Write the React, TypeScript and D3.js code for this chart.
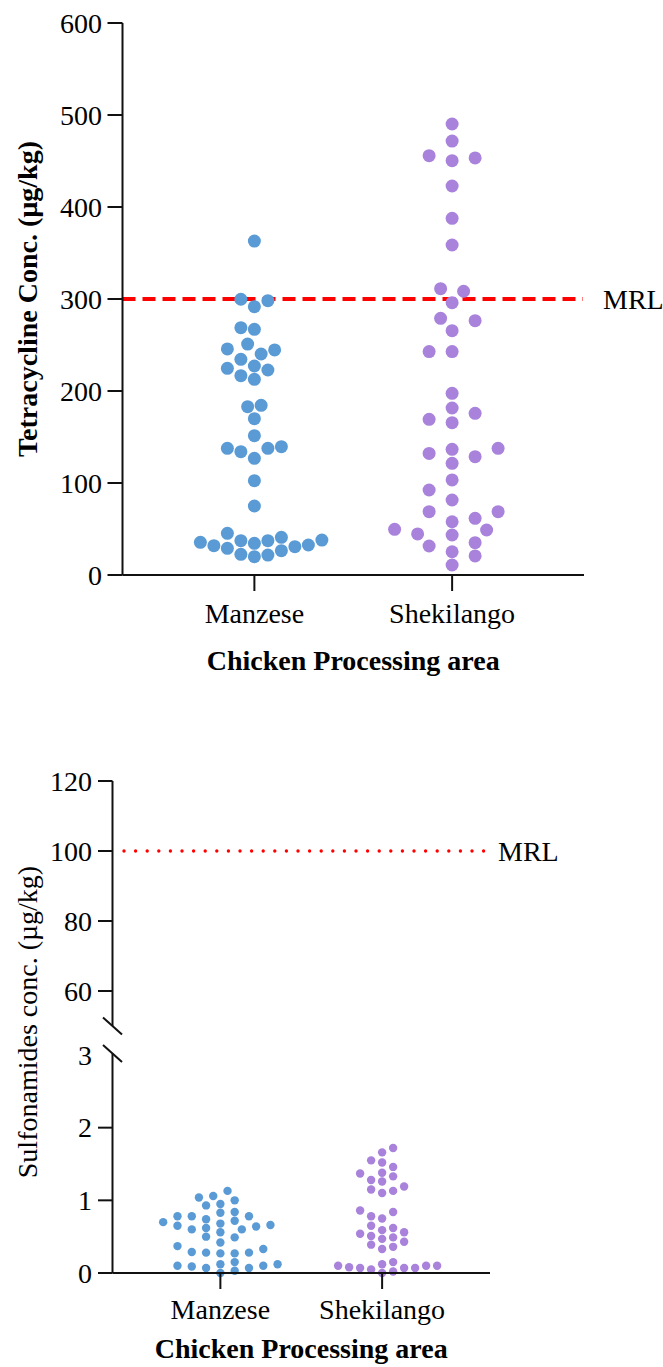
import React from "react";
import * as d3 from "d3";

// ---------- data ----------
const categories = ["Manzese", "Shekilango"];

const tetraManzese = [
  363, 299.7, 298.2, 291.7, 267, 268.8, 240.2, 245.7, 251, 244.6, 234.4, 222.8, 227.2, 224.6,
  216.7, 212.7, 183, 184.4, 169.9, 151.4, 139.5, 137.7, 134, 137.7, 126.8, 102.5, 75, 31.9,
  34.4, 35.5, 21.7, 30.8, 37.3, 22.5, 29, 45.3, 32.6, 19.9, 41, 26.4, 37.3, 38,
];
const tetraShekilango = [
  490.2, 471.7, 455.8, 450.4, 453.3, 422.8, 387.7, 358.7, 308.4, 311.2, 296, 279, 276.4, 265.6,
  242.8, 242.8, 197.5, 181.5, 175.7, 165.6, 169.2, 128.6, 136.6, 137.7, 132.2, 121.4, 103.3,
  92.4, 81.5, 68.8, 68.8, 57.9, 61.6, 48.9, 49.6, 44.6, 43.5, 35.1, 31.5, 25.3, 20.7, 10.9,
];
const sulfaManzese = [
  0.7, 0.37, 0.07, 0.78, 0.65, 0.27, 0.12, 1.06, 0.93, 0.83, 0.68, 0.56, 0.28, 0.09, 1.13, 1.0,
  0.62, 0.5, 0.1, 0.74, 0.6, 0.42, 0.28, 0.12, 0.0, 1.04, 0.84, 0.72, 0.6, 0.49, 0.29, 0.1, 0.95,
  0.78, 0.66, 0.27, 0.15, 0.03, 0.78, 0.64, 0.33, 0.07,
];
const sulfaShekilango = [
  1.72, 1.66, 1.52, 1.55, 1.46, 1.38, 1.37, 1.33, 1.26, 1.28, 1.15, 1.13, 1.1, 1.19, 0.86, 0.84,
  0.75, 0.78, 0.65, 0.56, 0.59, 0.62, 0.54, 0.43, 0.47, 0.51, 0.49, 0.33, 0.39, 0.36, 0.07, 0.1,
  0.08, 0.1, 0.12, 0.0, 0.1, 0.05, 0.07, 0.15, 0.02, 0.07,
];

const tetraTicks = [0, 100, 200, 300, 400, 500, 600];
const sulfaUpperTicks = [60, 80, 100, 120];
const sulfaLowerTicks = [0, 1, 2];
const sulfaBreakLabel = 3;
const tetraMRL = 300;
const sulfaMRL = 100;

const tetraYTitle = "Tetracycline Conc. (µg/kg)";
const sulfaYTitle = "Sulfonamides conc. (µg/kg)";
const xTitle = "Chicken Processing area";
const mrlLabel = "MRL";

// ---------- style ----------
const FONT = "'Liberation Serif', 'Times New Roman', Times, serif";
const BLUE = "#5B9BD5";
const PURPLE = "#A882DB";
const AXIS = "#111";
const colors = [BLUE, PURPLE];

type Pt = { v: number; x: number; y: number };

function swarm(values: number[], y: (v: number) => number, cx: number, s: number, d: number): Pt[] {
  const sorted = values.map((v) => ({ v, y: y(v) })).sort((a, b) => a.v - b.v);
  const placed: { off: number; y: number; v: number }[] = [];
  let toggle = 1;
  for (const p of sorted) {
    let done = false;
    for (let k = 0; k < 60 && !done; k++) {
      const cands = k === 0 ? [0] : toggle > 0 ? [k, -k] : [-k, k];
      for (const c of cands) {
        const off = (c * s) / 2;
        const hit = placed.some((q) => {
          const a = (off - q.off) / s;
          const b = (p.y - q.y) / d;
          return a * a + b * b < 0.97;
        });
        if (!hit) {
          placed.push({ off, y: p.y, v: p.v });
          if (c !== 0) toggle = -toggle;
          done = true;
          break;
        }
      }
    }
  }
  return placed.map((q) => ({ v: q.v, x: cx + q.off, y: q.y }));
}

function TopChart() {
  const axisX = 122.5;
  const xEnd = 584;
  const y = d3.scaleLinear().domain([0, 600]).range([575, 23]);
  const x = d3.scalePoint<string>().domain(categories).range([axisX, xEnd]).padding(0.667);
  const r = 6.5;
  const spacing = [13.5, 23];
  const groups = [tetraManzese, tetraShekilango].map((vals, i) =>
    swarm(vals, y, x(categories[i])!, spacing[i], 2 * r)
  );
  const y0 = y(0);
  return (
    <g>
      {/* MRL */}
      <line x1={axisX} x2={583} y1={y(tetraMRL)} y2={y(tetraMRL)} stroke="#FF0000" strokeWidth={4} strokeDasharray="13,7" />
      <text x={603} y={y(tetraMRL)} dy="0.35em" fontSize={28} fontFamily={FONT} fill="#000">
        {mrlLabel}
      </text>
      {/* dots */}
      {groups.map((g, i) =>
        g.map((p, j) => <circle key={`${i}-${j}`} cx={p.x} cy={p.y} r={r} fill={colors[i]} />)
      )}
      {/* y axis */}
      <line x1={axisX} x2={axisX} y1={y(600)} y2={y0} stroke={AXIS} strokeWidth={2} />
      {tetraTicks.map((t) => (
        <g key={t}>
          <line x1={axisX - 15} x2={axisX} y1={y(t)} y2={y(t)} stroke={AXIS} strokeWidth={2} />
          <text x={102} y={y(t)} dy="0.35em" textAnchor="end" fontSize={28} fontFamily={FONT} fill="#000">
            {t}
          </text>
        </g>
      ))}
      {/* x axis */}
      <line x1={axisX} x2={xEnd} y1={y0} y2={y0} stroke={AXIS} strokeWidth={2} />
      {categories.map((c) => (
        <g key={c}>
          <line x1={x(c)} x2={x(c)} y1={y0} y2={y0 + 16} stroke={AXIS} strokeWidth={2} />
          <text x={x(c)} y={623} textAnchor="middle" fontSize={28} fontFamily={FONT} fill="#000">
            {c}
          </text>
        </g>
      ))}
      <text x={(x(categories[0])! + x(categories[1])!) / 2} y={670} textAnchor="middle" fontSize={28} fontWeight="bold" fontFamily={FONT} fill="#000">
        {xTitle}
      </text>
      <text transform={`translate(37, ${(y(600) + y0) / 2}) rotate(-90)`} textAnchor="middle" fontSize={28} fontWeight="bold" fontFamily={FONT} fill="#000">
        {tetraYTitle}
      </text>
    </g>
  );
}

function BottomChart() {
  const axisX = 112.5;
  const xEnd = 490;
  const yU = d3.scaleLinear().domain([50, 120]).range([1026, 781]);
  const yL = d3.scaleLinear().domain([0, 3]).range([1273, 1055]);
  const x = d3.scalePoint<string>().domain(categories).range([axisX, xEnd]).padding(0.667);
  const r = 4.2;
  const spacing = [14.3, 11];
  const groups = [sulfaManzese, sulfaShekilango].map((vals, i) =>
    swarm(vals, yL, x(categories[i])!, spacing[i], 8.6)
  );
  const y0 = yL(0);
  const breakU = yU(50);
  const breakL = yL(sulfaBreakLabel) - 1.5;
  const slash = (cy: number, k: string) => (
    <line key={k} x1={axisX - 9.5} x2={axisX + 9.5} y1={cy - 8.5} y2={cy + 8.5} stroke={AXIS} strokeWidth={2} />
  );
  const label = (t: number, yy: number) => (
    <text key={`l${t}`} x={92} y={yy} dy="0.35em" textAnchor="end" fontSize={28} fontFamily={FONT} fill="#000">
      {t}
    </text>
  );
  return (
    <g>
      {/* MRL dotted */}
      <line x1={124} x2={484} y1={yU(sulfaMRL)} y2={yU(sulfaMRL)} stroke="#FF0000" strokeWidth={3.4} strokeLinecap="round" strokeDasharray="0,11.6" />
      <text x={498} y={yU(sulfaMRL)} dy="0.35em" fontSize={28} fontFamily={FONT} fill="#000">
        {mrlLabel}
      </text>
      {groups.map((g, i) =>
        g.map((p, j) => <circle key={`${i}-${j}`} cx={p.x} cy={p.y} r={r} fill={colors[i]} />)
      )}
      {/* y axis upper */}
      <line x1={axisX} x2={axisX} y1={yU(120)} y2={breakU} stroke={AXIS} strokeWidth={2} />
      {sulfaUpperTicks.map((t) => (
        <g key={`u${t}`}>
          <line x1={axisX - 14.5} x2={axisX} y1={yU(t)} y2={yU(t)} stroke={AXIS} strokeWidth={2} />
          {label(t, yU(t))}
        </g>
      ))}
      {slash(breakU, "s1")}
      {slash(breakL, "s2")}
      {/* y axis lower */}
      <line x1={axisX} x2={axisX} y1={breakL} y2={y0} stroke={AXIS} strokeWidth={2} />
      {sulfaLowerTicks.map((t) => (
        <g key={`d${t}`}>
          <line x1={axisX - 14.5} x2={axisX} y1={yL(t)} y2={yL(t)} stroke={AXIS} strokeWidth={2} />
          {label(t, yL(t))}
        </g>
      ))}
      {label(sulfaBreakLabel, yL(sulfaBreakLabel))}
      {/* x axis */}
      <line x1={axisX} x2={xEnd} y1={y0} y2={y0} stroke={AXIS} strokeWidth={2} />
      {categories.map((c) => (
        <g key={c}>
          <line x1={x(c)} x2={x(c)} y1={y0} y2={y0 + 16} stroke={AXIS} strokeWidth={2} />
          <text x={x(c)} y={1319} textAnchor="middle" fontSize={28} fontFamily={FONT} fill="#000">
            {c}
          </text>
        </g>
      ))}
      <text x={(x(categories[0])! + x(categories[1])!) / 2} y={1358} textAnchor="middle" fontSize={28} fontWeight="bold" fontFamily={FONT} fill="#000">
        {xTitle}
      </text>
      <text transform={`translate(37, 1022) rotate(-90)`} textAnchor="middle" fontSize={28} fontFamily={FONT} fill="#000">
        {sulfaYTitle}
      </text>
    </g>
  );
}

export default function App() {
  return (
    <svg
      width={663}
      height={1367}
      viewBox="0 0 663 1367"
      style={{ position: "absolute", left: 0, top: 0, background: "#fff" }}
    >
      <rect width={663} height={1367} fill="#fff" />
      <TopChart />
      <BottomChart />
    </svg>
  );
}
